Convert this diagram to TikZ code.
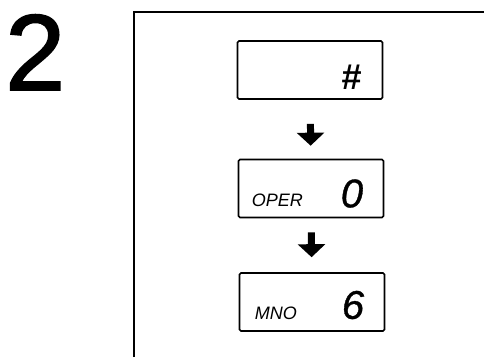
\documentclass[tikz,border=0pt]{standalone}
\usepackage{fontspec}
\setmainfont{Liberation Sans}
\newfontface\heavyface[FakeBold=1.6]{Liberation Sans}
\newfontface\keyface[FakeBold=0.8]{Liberation Sans Italic}
\usetikzlibrary{arrows.meta,positioning}

\begin{document}
\begin{tikzpicture}[x=1pt, y=1pt,
  key/.style={draw, line width=1.6pt, rounded corners=1.5pt,
              minimum width=145pt, minimum height=58pt, inner sep=0pt},
  digit/.style={font=\fontsize{40}{40}\selectfont\keyface, anchor=base east, inner sep=0pt},
  sub/.style={font=\fontsize{18}{18}\selectfont\itshape, anchor=base west, inner sep=0pt},
  flow/.style={line width=7pt, -{Triangle[width=27pt, length=13pt]}}]
  \useasboundingbox (0,0) rectangle (484,357);
  \node[anchor=base west, inner sep=0pt, font=\fontsize{108}{108}\selectfont\heavyface] (stepno) at (5,267) {2};
  \draw[line width=1.6pt] (134,0) -- (134,345) -- (484,345);
  % keys
  \node[key] (hash) at (310,287) {};
  \node[key] (oper) at (311,168.5) {};
  \node[key] (mno)  at (312,55) {};
  \node[digit, font=\fontsize{36}{36}\selectfont\bfseries\itshape] (hashsym)
    at ([xshift=-22pt, yshift=10pt]hash.south east) {\#};
  \node[digit] (zero) at ([xshift=-21pt, yshift=11pt]oper.south east) {0};
  \node[sub] (opertxt) at ([xshift=14pt, yshift=12pt]oper.south west) {OPER};
  \node[digit] (six) at ([xshift=-21pt, yshift=13pt]mno.south east) {6};
  \node[sub] (mnotxt) at ([xshift=16pt, yshift=12pt]mno.south west) {MNO};
  \draw[flow, shorten <=24pt, shorten >=13pt] (hash) -- (oper);
  \draw[flow, shorten <=14pt, shorten >=15pt] (oper) -- (mno);
\end{tikzpicture}
\end{document}
